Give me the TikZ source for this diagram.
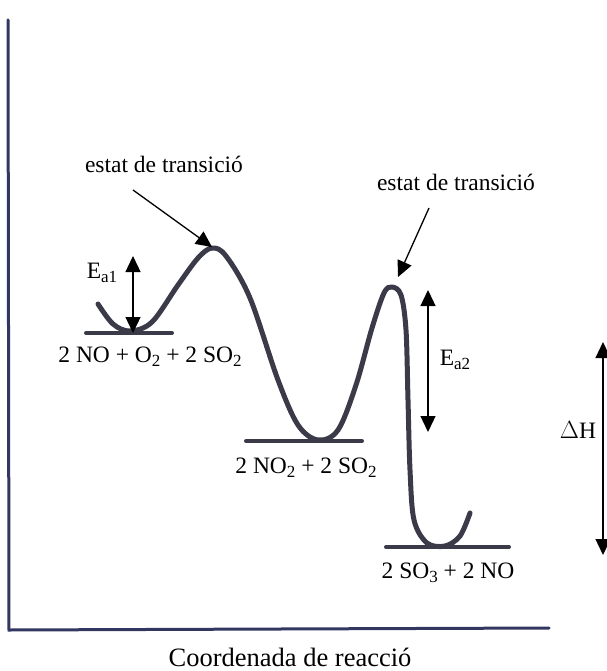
\documentclass[tikz,border=0pt]{standalone}
\usepackage{fontspec}
\setmainfont{Liberation Serif}
\usetikzlibrary{arrows.meta}
\definecolor{pencil}{RGB}{58,58,72}
\definecolor{pencilblue}{RGB}{50,55,95}
\newcommand{\lowsub}[1]{\raisebox{-0.35ex}{\fontsize{17}{17}\selectfont #1}}
\tikzset{
  lbl/.style={font=\fontsize{23.5}{26}\selectfont, inner sep=0pt, text=black},
  axis/.style={draw=pencilblue, line width=3pt, line cap=round},
  curve/.style={draw=pencil, line width=5pt, line cap=round, line join=round},
  level/.style={draw=pencil, line width=4pt, line cap=round},
  ptr/.style={draw=black, line width=1.3pt, -{Triangle[width=15pt,length=16pt]}},
  dbl/.style={draw=black, line width=1.3pt, {Triangle[width=15pt,length=16pt]}-{Triangle[width=15pt,length=16pt]}},
}
\begin{document}
\begin{tikzpicture}[x=1pt,y=-1pt]
\useasboundingbox (0,0) rectangle (606,671);
% axes
\coordinate (ytop) at (8,20);
\coordinate (orig) at (9,630);
\coordinate (xend) at (549,628);
\draw[axis] (ytop) -- (orig) -- (xend);
\node[lbl, font=\fontsize{26.5}{30}\selectfont] (xlab) at (290,657) {Coordenada de reacció};
% levels
\draw[level] (86,333) -- (172,333);
\draw[level] (246,441) -- (362,441);
\draw[level] (386,547) -- (509,547);
% energy curve
\draw[curve] plot[smooth, tension=0.55] coordinates {
 (98,304) (113,324) (130,331) (152,322) (178,285) (198,258) (212,248) (226,256)
 (250,298) (278,380) (298,425) (318,440) (338,430) (356,385) (372,328) (384,293)
 (392,287) (401,295) (406,330) (408,400) (410,470) (414,520) (427,543) (445,546)
 (460,536) (470,513)};
\coordinate (ts1) at (212,247);
\coordinate (ts2) at (398,277);
% labels
\node[lbl] (react) at (150,357) {2 NO + O\lowsub{2} + 2 SO\lowsub{2}};
\node[lbl] (inter) at (306,468) {2 NO\lowsub{2} + 2 SO\lowsub{2}};
\node[lbl] (prod) at (448,573) {2 SO\lowsub{3} + 2 NO};
\node[lbl] (tlab1) at (164,164) {estat de transició};
\node[lbl] (tlab2) at (456,182) {estat de transició};
\coordinate (p1) at (133,190);
\coordinate (p2) at (429,208);
\draw[ptr] (p1) -- (ts1);
\draw[ptr] (p2) -- (ts2);
% activation energies
\coordinate (ea1t) at (133,256);
\coordinate (ea1b) at (133,333);
\draw[dbl] (ea1t) -- (ea1b);
\node[lbl] (ea1) at (102,273) {E\lowsub{a1}};
\coordinate (ea2t) at (428,290);
\coordinate (ea2b) at (428,432);
\draw[dbl] (ea2t) -- (ea2b);
\node[lbl] (ea2) at (455,360) {E\lowsub{a2}};
\coordinate (dht) at (603,342);
\coordinate (dhb) at (603,555);
\draw[dbl] (dht) -- (dhb);
\node[lbl] (dh) at (578,430) {$\Delta$H};
\end{tikzpicture}
\end{document}
